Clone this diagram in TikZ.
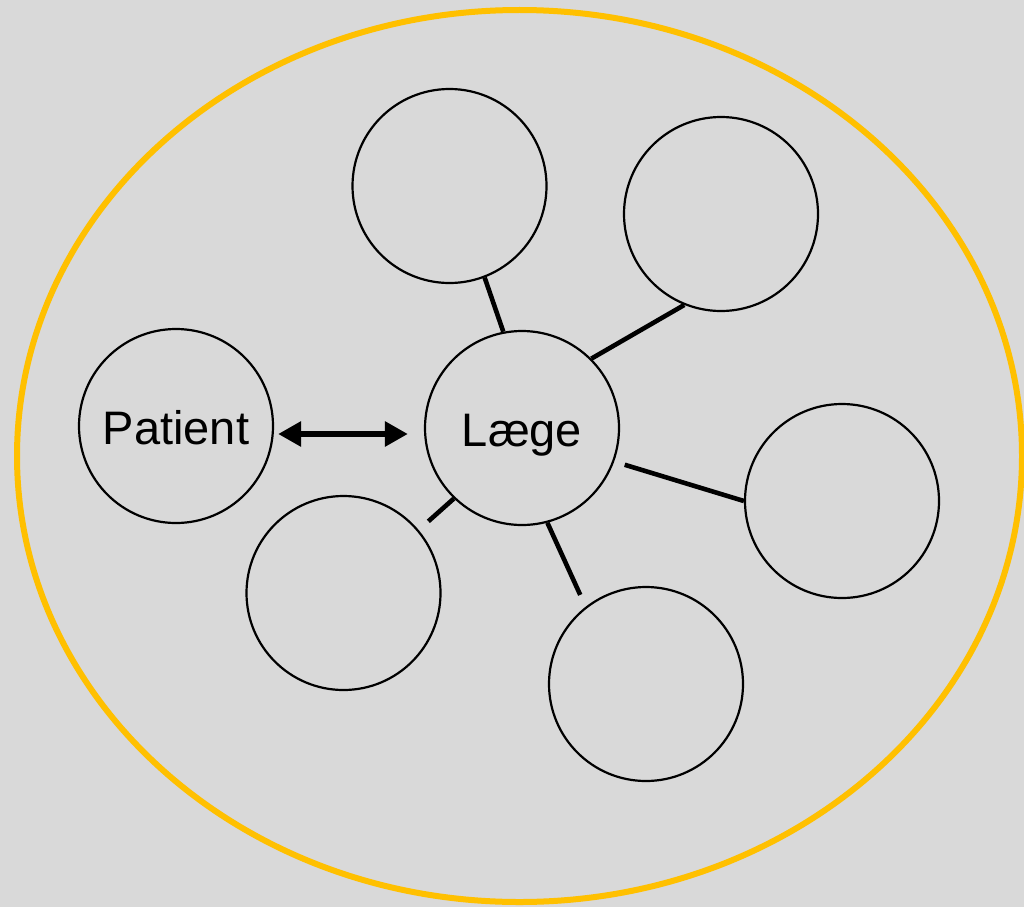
\documentclass[tikz,border=0pt]{standalone}
\usepackage{fontspec}
\setmainfont{Liberation Sans}
\usetikzlibrary{arrows.meta}
\definecolor{bg}{HTML}{D9D9D9}
\definecolor{ring}{HTML}{FFC000}
\begin{document}
\begin{tikzpicture}[x=1pt,y=-1pt,
role/.style={%
circle,
draw,
line width=2.2pt,
minimum size=194pt,
inner sep=0pt,
text height=37pt,
text depth=0pt,
font=\fontsize{47}{50}\selectfont
},
link/.style={%
line width=4.6pt
},
talk/.style={%
{Triangle[length=23pt,width=24pt]}-{Triangle[length=23pt,width=24pt]},
line width=6.5pt
},
]
%% Background
\fill[bg] (0,0) rectangle (1024,907);
\useasboundingbox (0,0) rectangle (1024,907);
\draw[ring,line width=6pt] (519.5,456) ellipse [x radius=502.5,y radius=446];
%% Roles
\node[role] (laege) at (522,428) {Læge};
\node[role] (patient) at (176,426) {Patient};
\node[role] (top) at (449.5,186) {};
\node[role] (upright) at (721,214) {};
\node[role] (right) at (842,501) {};
\node[role] (bottom) at (646,684) {};
\node[role] (lowleft) at (343.5,593) {};
%% Links
\draw[link] (laege.101) -- (top.291);
\draw[link] (laege.45) -- (upright.248);
\draw[link,shorten <=11pt] (laege.340) -- (right.180);
\draw[link,shorten >=13pt] (laege.285) -- (bottom.128);
\draw[link,shorten >=13pt] (laege.226) -- (lowleft.40);
%% Patient <-> Laege
\draw[talk] ([xshift=4pt,yshift=-8pt]patient.east) -- ([xshift=-16pt,yshift=-6pt]laege.west);
\end{tikzpicture}
\end{document}
